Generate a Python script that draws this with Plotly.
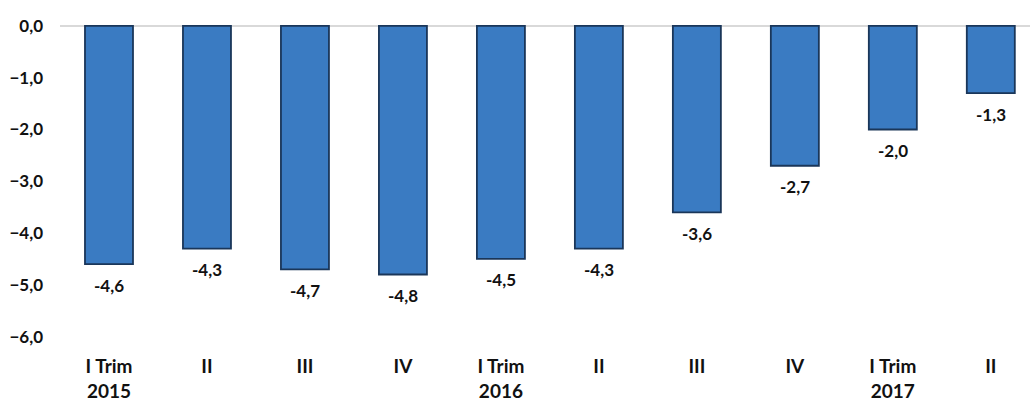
import plotly.graph_objects as go

# Quarterly values (percent)
quarters = ["I Trim<br>2015", "II", "III", "IV",
            "I Trim<br>2016", "II", "III", "IV",
            "I Trim<br>2017", "II"]
values = [-4.6, -4.3, -4.7, -4.8, -4.5, -4.3, -3.6, -2.7, -2.0, -1.3]
y_ticks = [0, -1, -2, -3, -4, -5, -6]

positions = list(range(len(quarters)))
label_font = dict(family="Lato", size=17, color="#111111", weight="bold")

fig = go.Figure()
fig.add_trace(go.Bar(
    x=positions,
    y=values,
    marker=dict(color="#3a7bc2", line=dict(color="#1a3659", width=1.8)),
    width=0.49,
    hoverinfo="skip",
))

# Value labels placed just below the end of each bar
for x, v in zip(positions, values):
    fig.add_annotation(
        x=x, y=v, xref="x", yref="y",
        text=f"{v:.1f}".replace(".", ","),
        showarrow=False, yanchor="middle", yshift=-21,
        font=label_font,
    )

fig.update_layout(
    width=1030, height=401,
    margin=dict(l=60, r=0, t=0, b=54),
    paper_bgcolor="white", plot_bgcolor="white",
    separators=",.",
    showlegend=False,
    font=dict(family="Lato", color="#111111"),
)
fig.update_xaxes(
    tickvals=positions, ticktext=quarters,
    range=[-0.5, 9.4],
    showgrid=False, showline=False, ticks="",
    ticklabelstandoff=6,
    tickfont=dict(family="Lato", size=19, color="#111111", weight="bold"),
)
fig.update_yaxes(
    range=[-6.2, 0.5],
    tickvals=y_ticks, tickformat=".1f",
    showgrid=False, zeroline=True, zerolinecolor="#d9d9d9", zerolinewidth=1.5,
    showline=False, ticks="", ticklabelstandoff=16,
    tickfont=label_font,
)

fig.write_html("out.html")
